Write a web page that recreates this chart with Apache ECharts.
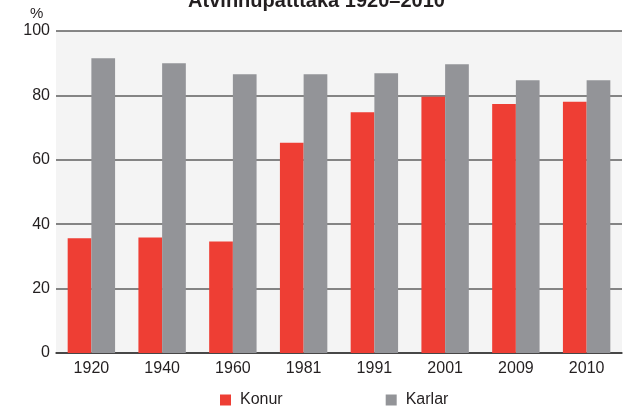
<!DOCTYPE html>
<html>
<head>
<meta charset="utf-8">
<script src="https://cdn.jsdelivr.net/npm/echarts@6/dist/echarts.min.js"></script>
<style>
  html, body { margin: 0; padding: 0; background: #fff; }
  #chart { width: 633px; height: 408px; }
</style>
</head>
<body>
<div id="chart"></div>
<script>
// gögn
const years = ['1920', '1940', '1960', '1981', '1991', '2001', '2009', '2010'];
const konur = [35.6, 35.9, 34.6, 65.3, 74.8, 79.6, 77.3, 78.0];
const karlar = [91.5, 90.0, 86.6, 86.6, 86.9, 89.7, 84.7, 84.7];
const yTicks = [0, 20, 40, 60, 80, 100];

const font = 'Liberation Sans, Arial, Helvetica, sans-serif';
const textColor = '#231f20';

const chart = echarts.init(document.getElementById('chart'), null, { renderer: 'canvas' });

chart.setOption({
    animation: false,
    title: {
        text: 'Atvinnuþátttaka 1920–2010',
        left: 'center',
        top: -9,
        padding: 0,
        textStyle: { fontFamily: font, fontSize: 20, fontWeight: 'bold', color: textColor }
    },
    graphic: [{
        type: 'text',
        left: 30,
        top: 6,
        style: { text: '%', font: '15px ' + font, fill: textColor }
    }],
    grid: {
        left: 56, right: 11, top: 31, bottom: 55,
        show: true, backgroundColor: '#f4f4f4', borderWidth: 0
    },
    legend: {
        left: 220,
        top: 392,
        padding: 0,
        icon: 'rect',
        itemWidth: 11,
        itemHeight: 11,
        itemGap: 103,
        textStyle: { fontFamily: font, fontSize: 16, color: textColor, padding: [0, 0, 0, 4] }
    },
    xAxis: {
        type: 'category',
        data: years,
        axisLine: { lineStyle: { color: '#333', width: 1.5 } },
        axisTick: { show: false },
        axisLabel: { fontFamily: font, fontSize: 16, color: textColor, margin: 8 }
    },
    yAxis: {
        type: 'value',
        min: yTicks[0],
        max: yTicks[yTicks.length - 1],
        interval: 20,
        axisLine: { show: false },
        axisTick: { show: false },
        axisLabel: { fontFamily: font, fontSize: 16, color: textColor, margin: 6 },
        splitLine: { lineStyle: { color: '#5f5f5f', width: 1.5 } }
    },
    series: [
        {
            name: 'Konur',
            type: 'bar',
            data: konur,
            itemStyle: { color: '#ee3e34' },
            barGap: '0%',
            barCategoryGap: '33%'
        },
        {
            name: 'Karlar',
            type: 'bar',
            data: karlar,
            itemStyle: { color: '#939498' },
            barGap: '0%',
            barCategoryGap: '33%'
        }
    ]
});
</script>
</body>
</html>
